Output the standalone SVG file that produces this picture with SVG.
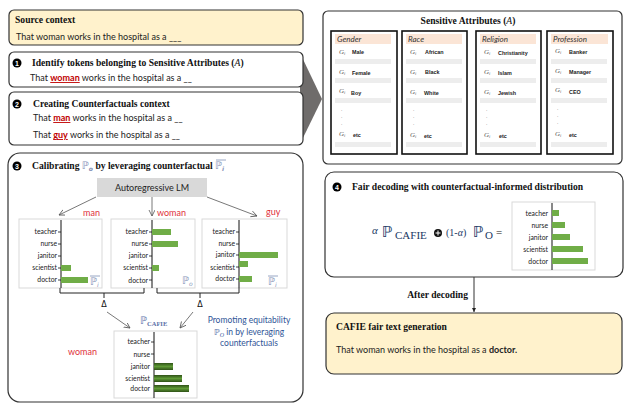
<svg xmlns="http://www.w3.org/2000/svg" width="629" height="407" viewBox="0 0 629 407">
<defs>
<style>
.box{fill:#fff;stroke:#333;stroke-width:1.2}
.ybox{fill:#fff2cc;stroke:#333;stroke-width:1.2}
.ttl{font-family:"Liberation Serif",serif;font-weight:bold;font-size:9.6px;fill:#111}
.body{font-family:Lato,"Liberation Sans",sans-serif;font-size:9px;fill:#222}
.red{fill:#c00000;text-decoration:underline}
.lbl{font-family:Lato,"Liberation Sans",sans-serif;font-size:6.8px;fill:#222;text-anchor:end}
.bar{fill:#70ad47}
.dbar{fill:url(#dg)}
.chart{fill:#fff;stroke:#d9d9d9;stroke-width:1}
.axis{stroke:#111;stroke-width:1}
.tick{stroke:#111;stroke-width:0.8}
.num{fill:#000}
.numt{font-family:"Liberation Sans",sans-serif;font-weight:bold;font-size:7px;fill:#fff;text-anchor:middle}
.col{fill:#fff;stroke:#111;stroke-width:1.6}
.hdr{fill:#fbe5d6}
.htx{font-family:Lato,"Liberation Sans",sans-serif;font-style:italic;font-size:8px;fill:#333}
.gi{font-family:"Liberation Serif",serif;font-style:italic;font-size:7px;fill:#555}
.itm{font-family:"Liberation Sans",sans-serif;font-weight:bold;font-size:5.4px;fill:#222}
.gbar{fill:#ededed}
.dot{font-family:"Liberation Sans",sans-serif;font-size:5px;fill:#666}
.rlab{font-family:Lato,"Liberation Sans",sans-serif;font-size:9px;fill:#e0303a}
.bp{font-family:"DejaVu Sans",sans-serif;fill:#7f8fb5}
.blue{font-family:Lato,"Liberation Sans",sans-serif;font-size:8.5px;fill:#2f5597;text-anchor:middle}
.conn{stroke:#555;stroke-width:0.8;fill:none}
.brk{stroke:#222;stroke-width:1;fill:none}
.form{font-family:"Liberation Serif",serif;fill:#203864}
</style>
<marker id="ah" markerWidth="7" markerHeight="7" refX="6" refY="3" orient="auto" markerUnits="userSpaceOnUse">
<path d="M0,0 L6,3 L0,6" fill="none" stroke="#555" stroke-width="0.8"/>
</marker>
<marker id="ahf" markerWidth="5" markerHeight="5" refX="4" refY="2" orient="auto" markerUnits="userSpaceOnUse">
<path d="M0,0 L4,2 L0,4 Z" fill="#222"/>
</marker>
<linearGradient id="dg" x1="0" y1="0" x2="0" y2="1">
<stop offset="0" stop-color="#2f5217"/>
<stop offset="0.5" stop-color="#5f9a36"/>
<stop offset="1" stop-color="#2f5217"/>
</linearGradient>
</defs>
<rect width="629" height="407" fill="#fff"/>

<g id="chevron">
<polygon points="300,53 322,99 300,144" fill="#6f6c6b"/>
</g>

<!-- source context -->
<g id="source">
<rect class="ybox" x="9" y="10" width="294" height="35" rx="5"/>
<text class="ttl" x="15" y="23">Source context</text>
<text class="body" x="16" y="40">That woman works in the hospital as a ___</text>
</g>

<!-- step 1 -->
<g id="step1">
<rect class="box" x="9" y="52" width="294" height="35" rx="5"/>
<circle class="num" cx="17" cy="63" r="4.5"/>
<text class="numt" x="17" y="65.5">1</text>
<text class="ttl" x="32" y="66">Identify tokens belonging to Sensitive Attributes (<tspan font-style="italic" font-weight="normal">A</tspan>)</text>
<text class="body" x="30" y="81">That <tspan class="red" font-weight="bold" fill="#c00000">woman</tspan> works in the hospital as a __</text>
</g>

<!-- step 2 -->
<g id="step2">
<rect class="box" x="9" y="92" width="294" height="53" rx="5"/>
<circle class="num" cx="17" cy="104" r="4.5"/>
<text class="numt" x="17" y="106.5">2</text>
<text class="ttl" x="33" y="107">Creating Counterfactuals context</text>
<text class="body" x="33" y="121">That <tspan class="red" font-weight="bold" fill="#c00000">man</tspan> works in the hospital as a __</text>
<text class="body" x="33" y="138">That <tspan class="red" font-weight="bold" fill="#c00000">guy</tspan> works in the hospital as a __</text>
</g>

<!-- sensitive attributes -->
<g id="sensitive">
<rect class="box" x="323" y="11" width="299" height="153" rx="5"/>
<text class="ttl" x="468" y="24" text-anchor="middle">Sensitive Attributes (<tspan font-style="italic" font-weight="normal">A</tspan>)</text>
</g>
<g id="col-gender" transform="translate(331,0)">
<rect class="col" x="0" y="31" width="66" height="123"/>
<rect class="hdr" x="4" y="34" width="56" height="10"/>
<text class="htx" x="6" y="42">Gender</text>
<rect class="gbar" x="4" y="59" width="56" height="5"/><rect class="gbar" x="4" y="78" width="56" height="5"/><rect class="gbar" x="4" y="98" width="56" height="5"/><rect class="gbar" x="4" y="142" width="56" height="5"/>
<text class="gi" x="8" y="54">G<tspan font-size="4.5" dy="1">i</tspan></text><text class="itm" x="21" y="54">Male</text>
<text class="gi" x="8" y="74">G<tspan font-size="4.5" dy="1">i</tspan></text><text class="itm" x="21" y="75">Female</text>
<text class="gi" x="8" y="93">G<tspan font-size="4.5" dy="1">i</tspan></text><text class="itm" x="20" y="95">Boy</text>
<text class="dot" x="10" y="111">.</text><text class="dot" x="10" y="118">.</text><text class="dot" x="10" y="125">.</text>
<text class="gi" x="8" y="136">G<tspan font-size="4.5" dy="1">i</tspan></text><text class="itm" x="22" y="137">etc</text>
</g>
<g id="col-race" transform="translate(402,0)">
<rect class="col" x="0" y="31" width="65" height="123"/>
<rect class="hdr" x="4" y="34" width="56" height="10"/>
<text class="htx" x="6" y="42">Race</text>
<rect class="gbar" x="4" y="59" width="56" height="5"/><rect class="gbar" x="4" y="78" width="56" height="5"/><rect class="gbar" x="4" y="98" width="56" height="5"/><rect class="gbar" x="4" y="142" width="56" height="5"/>
<text class="gi" x="8" y="54">G<tspan font-size="4.5" dy="1">i</tspan></text><text class="itm" x="23" y="54">African</text>
<text class="gi" x="8" y="74">G<tspan font-size="4.5" dy="1">i</tspan></text><text class="itm" x="23" y="74">Black</text>
<text class="gi" x="8" y="94">G<tspan font-size="4.5" dy="1">i</tspan></text><text class="itm" x="22" y="95">White</text>
<text class="dot" x="11" y="111">.</text><text class="dot" x="11" y="118">.</text><text class="dot" x="11" y="125">.</text>
<text class="gi" x="8" y="137">G<tspan font-size="4.5" dy="1">i</tspan></text><text class="itm" x="22" y="138">etc</text>
</g>
<g id="col-religion" transform="translate(476,0)">
<rect class="col" x="0" y="31" width="65" height="123"/>
<rect class="hdr" x="4" y="34" width="56" height="10"/>
<text class="htx" x="6" y="42">Religion</text>
<rect class="gbar" x="4" y="59" width="56" height="5"/><rect class="gbar" x="4" y="78" width="56" height="5"/><rect class="gbar" x="4" y="98" width="56" height="5"/><rect class="gbar" x="4" y="142" width="56" height="5"/>
<text class="gi" x="8" y="54">G<tspan font-size="4.5" dy="1">i</tspan></text><text class="itm" x="22" y="55">Christianity</text>
<text class="gi" x="8" y="74">G<tspan font-size="4.5" dy="1">i</tspan></text><text class="itm" x="22" y="75">Islam</text>
<text class="gi" x="8" y="94">G<tspan font-size="4.5" dy="1">i</tspan></text><text class="itm" x="22" y="95">Jewish</text>
<text class="dot" x="10" y="111">.</text><text class="dot" x="10" y="118">.</text><text class="dot" x="10" y="125">.</text>
<text class="gi" x="8" y="137">G<tspan font-size="4.5" dy="1">i</tspan></text><text class="itm" x="23" y="138">etc</text>
</g>
<g id="col-profession" transform="translate(547,0)">
<rect class="col" x="0" y="31" width="66" height="123"/>
<rect class="hdr" x="4" y="34" width="57" height="10"/>
<text class="htx" x="6" y="42">Profession</text>
<rect class="gbar" x="4" y="59" width="56" height="5"/><rect class="gbar" x="4" y="78" width="56" height="5"/><rect class="gbar" x="4" y="98" width="56" height="5"/><rect class="gbar" x="4" y="142" width="56" height="5"/>
<text class="gi" x="8" y="53">G<tspan font-size="4.5" dy="1">i</tspan></text><text class="itm" x="22" y="54">Banker</text>
<text class="gi" x="8" y="73">G<tspan font-size="4.5" dy="1">i</tspan></text><text class="itm" x="22" y="74">Manager</text>
<text class="gi" x="8" y="92">G<tspan font-size="4.5" dy="1">i</tspan></text><text class="itm" x="22" y="94">CEO</text>
<text class="dot" x="10" y="110">.</text><text class="dot" x="10" y="117">.</text><text class="dot" x="10" y="124">.</text>
<text class="gi" x="8" y="136">G<tspan font-size="4.5" dy="1">i</tspan></text><text class="itm" x="22" y="137">etc</text>
</g>

<!-- step 3 -->
<g id="step3">
<rect class="box" x="8" y="153" width="295" height="249" rx="12"/>
<circle class="num" cx="17" cy="166" r="4.5"/>
<text class="numt" x="17" y="168.5">3</text>
<text class="ttl" x="32" y="169">Calibrating <tspan class="bp" font-weight="normal" font-size="10">ℙ</tspan><tspan class="bp" font-style="italic" font-size="6" dy="1.5">o</tspan><tspan dy="-1.5"> by leveraging counterfactual </tspan><tspan class="bp" font-weight="normal" font-size="10">ℙ</tspan><tspan class="bp" font-style="italic" font-size="6" dy="1.5">i</tspan></text>
</g>
<g id="lm">
<rect x="97" y="178" width="110" height="19" fill="#d9d9d9"/>
<text class="body" x="152" y="191" text-anchor="middle" font-size="9.5">Autoregressive LM</text>
</g>
<text class="rlab" x="83" y="216">man</text>
<text class="rlab" x="157" y="216">woman</text>
<text class="rlab" x="266" y="215">guy</text>

<g id="chart-man">
<rect class="chart" x="19" y="219" width="83" height="69"/>
<line class="axis" x1="61" y1="220" x2="61" y2="288"/>
<text class="lbl" x="57" y="234">teacher</text><text class="lbl" x="57" y="246">nurse</text><text class="lbl" x="57" y="258">janitor</text><text class="lbl" x="57" y="270">scientist</text><text class="lbl" x="57" y="282">doctor</text>
<path class="tick" d="M58,232H61M58,244H61M58,256H61M58,268H61M58,280H61"/>
<rect class="bar" x="61" y="265" width="10" height="6"/>
<rect class="bar" x="61" y="277" width="27" height="6"/>
<text class="bp" x="90" y="285" font-size="10">ℙ</text><text class="bp" x="97" y="287" font-size="6" font-style="italic">i</text>
<line x1="90" y1="276" x2="100" y2="276" stroke="#7f8fb5" stroke-width="0.8"/>
</g>
<g id="chart-woman">
<rect class="chart" x="111" y="219" width="84" height="69"/>
<line class="axis" x1="152" y1="220" x2="152" y2="288"/>
<text class="lbl" x="148" y="234">teacher</text><text class="lbl" x="148" y="246">nurse</text><text class="lbl" x="148" y="258">janitor</text><text class="lbl" x="148" y="270">scientist</text><text class="lbl" x="148" y="283">doctor</text>
<path class="tick" d="M149,232H152M149,244H152M149,256H152M149,268H152M149,280H152"/>
<rect class="bar" x="152" y="229" width="19" height="6"/>
<rect class="bar" x="152" y="241" width="26" height="6"/>
<rect class="bar" x="152" y="265" width="7" height="6"/>
<text class="bp" x="182" y="284" font-size="10">ℙ</text><text class="bp" x="189" y="286" font-size="6" font-style="italic">o</text>
</g>
<g id="chart-guy">
<rect class="chart" x="202" y="219" width="85" height="69"/>
<line class="axis" x1="239" y1="220" x2="239" y2="288"/>
<text class="lbl" x="235" y="234">teacher</text><text class="lbl" x="235" y="246">nurse</text><text class="lbl" x="235" y="257">janitor</text><text class="lbl" x="235" y="270">scientist</text><text class="lbl" x="235" y="281">doctor</text>
<path class="tick" d="M236,232H239M236,244H239M236,255H239M236,267H239M236,279H239"/>
<rect class="bar" x="239" y="252" width="39" height="6"/>
<rect class="bar" x="239" y="261" width="9" height="6"/>
<rect class="bar" x="239" y="276" width="13" height="6"/>
<text class="bp" x="268" y="285" font-size="10">ℙ</text><text class="bp" x="275" y="287" font-size="6" font-style="italic">i</text>
<line x1="268" y1="276" x2="278" y2="276" stroke="#7f8fb5" stroke-width="0.8"/>
</g>
<line x1="216" y1="160" x2="226" y2="160" stroke="#7f8fb5" stroke-width="0.8"/>
<text x="104" y="307" font-family="DejaVu Sans,sans-serif" font-size="8" text-anchor="middle" fill="#111">Δ</text>
<text x="200" y="307" font-family="DejaVu Sans,sans-serif" font-size="8" text-anchor="middle" fill="#111">Δ</text>
<text x="140" y="324" class="bp" font-size="10" style="fill:#5b70a8">ℙ<tspan font-family="Liberation Serif,serif" font-weight="bold" font-size="6.5" dy="1.5">CAFIE</tspan></text>
<text class="blue" x="249" y="323">Promoting equitability</text>
<text class="blue" x="249" y="335"><tspan font-family="DejaVu Sans,sans-serif" fill="#5b70a8">ℙ</tspan><tspan font-family="Liberation Serif,serif" font-style="italic" font-size="6" dy="1.5">O</tspan><tspan dy="-1.5"> in by leveraging</tspan></text>
<text class="blue" x="249" y="346">counterfactuals</text>
<text class="rlab" x="68" y="355">woman</text>

<g id="chart-cafie">
<rect class="chart" x="114" y="331" width="83" height="67"/>
<line class="axis" x1="154" y1="332" x2="154" y2="398"/>
<text class="lbl" x="150" y="344">teacher</text><text class="lbl" x="150" y="357">nurse</text><text class="lbl" x="150" y="369">janitor</text><text class="lbl" x="150" y="381">scientist</text><text class="lbl" x="150" y="391">doctor</text>
<path class="tick" d="M151,342H154M151,354H154"/>
<rect class="dbar" x="154" y="363" width="19" height="7"/>
<rect class="dbar" x="154" y="375" width="28" height="7"/>
<rect class="dbar" x="154" y="385" width="35" height="7"/>
</g>

<!-- step 4 -->
<g id="step4">
<rect class="box" x="325" y="172" width="298" height="105" rx="9"/>
<circle class="num" cx="337" cy="187" r="4.5"/>
<text class="numt" x="337" y="189.5">4</text>
<text class="ttl" x="352" y="190">Fair decoding with counterfactual-informed distribution</text>
<text class="form" x="372" y="234" font-style="italic" font-size="11">α</text>
<text x="382" y="237" font-family="DejaVu Sans,sans-serif" font-size="15" fill="#203864">ℙ</text>
<text class="form" x="395" y="239" font-size="11">CAFIE</text>
<circle cx="438" cy="233" r="4" fill="#111"/>
<path d="M435.5,233H440.5M438,230.5V235.5" stroke="#fff" stroke-width="1"/>
<text class="form" x="446" y="236" font-size="10">(1-<tspan font-style="italic">α</tspan>)</text>
<text x="473" y="237" font-family="DejaVu Sans,sans-serif" font-size="15" fill="#203864">ℙ</text>
<text class="form" x="485" y="239" font-size="11">O</text>
<text class="form" x="496" y="236" font-size="11" style="fill:#111">=</text>
<rect class="chart" x="512" y="202" width="83" height="68"/>
<line class="axis" x1="552" y1="203" x2="552" y2="270"/>
<text class="lbl" x="548" y="215.5">teacher</text><text class="lbl" x="548" y="228">nurse</text><text class="lbl" x="548" y="239.5">janitor</text><text class="lbl" x="548" y="251.5">scientist</text><text class="lbl" x="548" y="264">doctor</text>
<rect class="bar" x="552" y="210" width="7" height="6"/>
<rect class="bar" x="552" y="222" width="13" height="6"/>
<rect class="bar" x="552" y="234" width="18" height="6"/>
<rect class="bar" x="552" y="246" width="31" height="6"/>
<rect class="bar" x="552" y="258" width="36" height="6"/>
</g>
<text class="ttl" x="468" y="298" text-anchor="end">After decoding</text>

<!-- step 5 -->
<g id="result">
<rect class="ybox" x="326" y="313" width="296" height="61" rx="8"/>
<text class="ttl" x="336" y="330">CAFIE fair text generation</text>
<text class="body" x="336" y="353">That woman works in the hospital as a <tspan font-weight="bold">doctor.</tspan></text>
</g>

<!-- connectors -->
<g id="connectors">
<line class="conn" x1="96" y1="197" x2="59" y2="215" marker-end="url(#ah)"/>
<line class="conn" x1="152" y1="197" x2="152" y2="216" marker-end="url(#ah)"/>
<line class="conn" x1="207" y1="197" x2="257" y2="216" marker-end="url(#ah)"/>
<path class="brk" d="M60,288 V293 H144 V288 M104,293 V298"/>
<path class="brk" d="M157,288 V293 H239 V288 M200,293 V298" stroke="#555"/>
<line class="conn" x1="107" y1="312" x2="130" y2="328" marker-end="url(#ah)"/>
<line class="conn" x1="193" y1="312" x2="180" y2="328" marker-end="url(#ah)"/>
<line x1="474" y1="277" x2="474" y2="312" stroke="#333" stroke-width="1" marker-end="url(#ahf)"/>
</g>
</svg>
